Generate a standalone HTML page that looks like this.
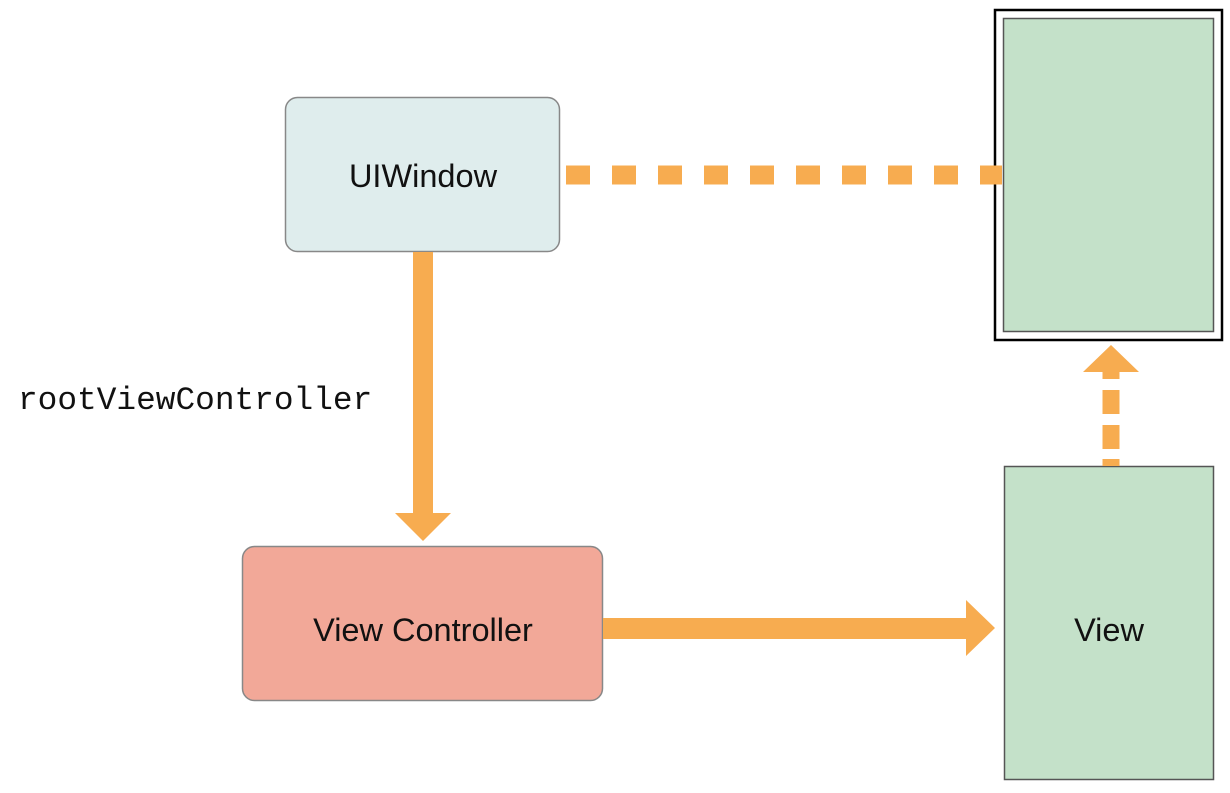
<!DOCTYPE html>
<html><head><style>body{margin:0;background:#fff;width:1230px;height:788px;overflow:hidden}</style></head>
<body>
<svg width="1230" height="788" xmlns="http://www.w3.org/2000/svg">
<rect x="995" y="10" width="227" height="330" fill="#fff" stroke="#000" stroke-width="2.5"/>
<rect x="1003.5" y="18.5" width="210" height="313" fill="#c4e1c9" stroke="#555" stroke-width="1.5"/>
<rect x="285.5" y="97.5" width="274" height="154" rx="12" fill="#dfeded" stroke="#888" stroke-width="1.5"/>
<text x="423" y="187" font-family="Liberation Sans, sans-serif" font-size="32.5" text-anchor="middle" fill="#111">UIWindow</text>
<line x1="566" y1="175" x2="1002" y2="175" stroke="#f7ac50" stroke-width="19" stroke-dasharray="24 22"/>
<rect x="413" y="252" width="20" height="262" fill="#f7ac50"/>
<polygon points="395,513 451,513 423,541" fill="#f7ac50"/>
<text x="18" y="409" font-family="Liberation Mono, monospace" font-size="32.8" fill="#111">rootViewController</text>
<rect x="242.5" y="546.5" width="360" height="154" rx="12" fill="#f2a898" stroke="#888" stroke-width="1.5"/>
<text x="423" y="641" font-family="Liberation Sans, sans-serif" font-size="32.5" text-anchor="middle" fill="#111">View Controller</text>
<rect x="603" y="618" width="364" height="21" fill="#f7ac50"/>
<polygon points="966,600 966,656 995,628" fill="#f7ac50"/>
<rect x="1004.5" y="466.5" width="209" height="313" fill="#c4e1c9" stroke="#555" stroke-width="1.5"/>
<text x="1109" y="641" font-family="Liberation Sans, sans-serif" font-size="32.5" text-anchor="middle" fill="#111">View</text>
<line x1="1111" y1="466" x2="1111" y2="372" stroke="#f7ac50" stroke-width="17" stroke-dasharray="7 10 24 11 24 11 24"/>
<polygon points="1083,372 1139,372 1111,345" fill="#f7ac50"/>
</svg>
</body></html>
